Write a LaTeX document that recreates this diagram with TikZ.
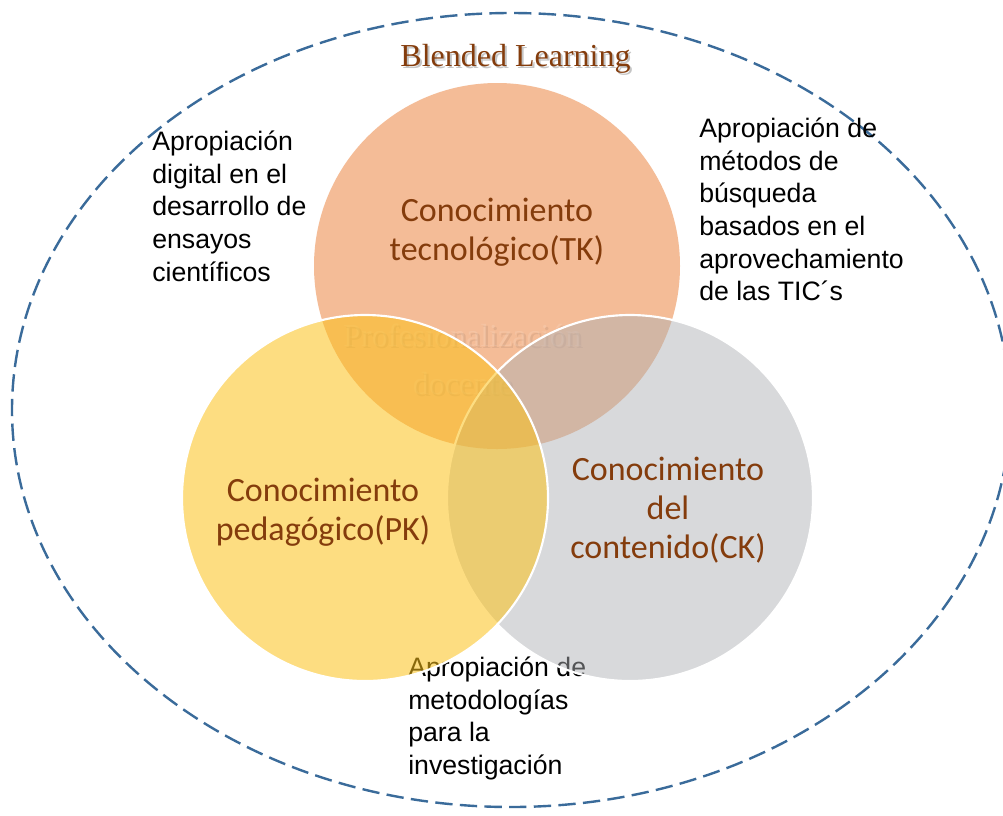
\documentclass[tikz,border=0pt]{standalone}
\usepackage{fontspec}
\setmainfont{Liberation Serif}
\newfontfamily\calibrifont{Carlito}
\newfontfamily\arialfont{Liberation Sans}
\definecolor{tkfill}{RGB}{244,188,151}
\definecolor{ckfill}{RGB}{174,176,180}
\definecolor{pkfill}{RGB}{252,193,24}
\definecolor{brownlabel}{RGB}{132,60,12}
\definecolor{dashblue}{RGB}{58,107,154}
\tikzset{
  setlabel/.style={align=center, text=brownlabel, inner sep=0pt,
    font=\calibrifont\fontsize{25.5}{29}\selectfont},
  blacktext/.style={align=left, anchor=north west, inner sep=0pt, text=black,
    font=\arialfont\fontsize{20}{24.4}\selectfont},
  whiteborder/.style={draw=white, line width=1.6pt},
}
\begin{document}
\begin{tikzpicture}[x=0.75pt,y=-0.75pt]
\useasboundingbox (0,0) rectangle (1003,815);
\clip (0,0) rectangle (1003,815);
\fill[white] (0,0) rectangle (1003,815);
% outer dashed ellipse
\draw[dashblue, line width=1.8pt, dash pattern=on 13pt off 5.5pt]
  (511,410) ellipse [x radius=499, y radius=397];
% title with shadow
\node[font=\fontsize{24}{28}\selectfont, text=black!45, opacity=0.5, inner sep=0pt] (titleshadow) at (517.5,61) {Blended Learning};
\node[font=\fontsize{24}{28}\selectfont, text=brownlabel, inner sep=0pt] (title) at (515.5,59) {Blended Learning};
% bottom text (lies beneath the circles)
\node[blacktext] (txtbottom) at (408,657) {Apropiación de\\metodologías\\para la\\investigación};
% TK circle
\fill[tkfill] (497,266) circle [radius=183];
% faint centre text
\node[font=\fontsize{24}{36}\selectfont, align=center, text=black, opacity=0.07, inner sep=0pt] (profshadow) at (464.5,361) {Profesionalización\\docente};
\node[font=\fontsize{24}{36}\selectfont, align=center, text=white, opacity=0.12, inner sep=0pt] (prof) at (462.5,359) {Profesionalización\\docente};
% CK circle
\fill[ckfill, fill opacity=0.48] (630,498) circle [radius=183];
\draw[whiteborder] (630,498) circle [radius=183];
% PK circle
\fill[pkfill, fill opacity=0.54] (365,498) circle [radius=183];
\draw[whiteborder] (365,498) circle [radius=183];
% circle labels
\node[setlabel] (tk) at (497,232) {Conocimiento\\tecnológico(TK)};
\node[setlabel] (pk) at (323,512) {Conocimiento\\pedagógico(PK)};
\node[setlabel] (ck) at (668,510) {Conocimiento\\del\\contenido(CK)};
% side texts
\node[blacktext] (txtleft) at (152,131) {Apropiación\\digital en el\\desarrollo de\\ensayos\\científicos};
\node[blacktext] (txtright) at (699,118) {Apropiación de\\métodos de\\búsqueda\\basados en el\\aprovechamiento\\de las TIC´s};
\end{tikzpicture}
\end{document}
